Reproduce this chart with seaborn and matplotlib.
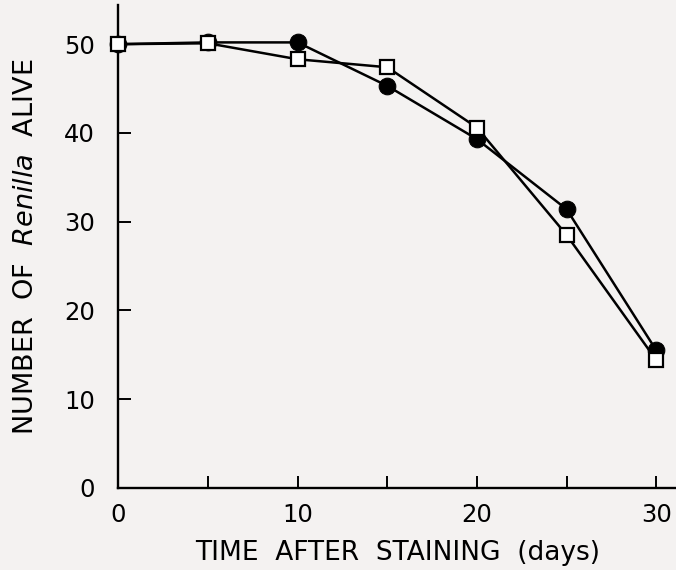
import matplotlib
matplotlib.use("Agg")
import matplotlib.pyplot as plt
import seaborn as sns
import pandas as pd

days = [0, 5, 10, 15, 20, 25, 30]
filled_circles = [50.0, 50.2, 50.2, 45.3, 39.3, 31.4, 15.5]
open_squares = [50.0, 50.1, 48.3, 47.4, 40.6, 28.5, 14.4]
x_tick_labels = ["0", "", "10", "", "20", "", "30"]
y_ticks = [0, 10, 20, 30, 40, 50]

sns.set_style("ticks")
plt.rcParams["font.family"] = ["DejaVu Sans"]
plt.rcParams["text.color"] = "black"
plt.rcParams["axes.labelcolor"] = "black"

bg = "#f4f2f1"
fig = plt.figure(figsize=(6.76, 5.70), dpi=100, facecolor=bg)
ax = fig.add_axes([0.175, 0.144, 0.825, 0.847], facecolor=bg)

df = pd.DataFrame({"day": days, "circ": filled_circles, "sq": open_squares})

sns.lineplot(data=df, x="day", y="circ", ax=ax, color="black", lw=1.8,
             marker="o", markersize=12, markerfacecolor="black",
             markeredgecolor="black", zorder=3, clip_on=False)
sns.lineplot(data=df, x="day", y="sq", ax=ax, color="black", lw=1.8,
             marker="s", markersize=10.5, markerfacecolor="white",
             markeredgecolor="black", markeredgewidth=1.6, zorder=4,
             clip_on=False)

ax.set_xlim(0, 31.1)
ax.set_ylim(0, 54.4)
ax.set_xticks(days)
ax.set_xticklabels(x_tick_labels)
ax.set_yticks(y_ticks)
ax.set_yticklabels([str(v) for v in y_ticks])
ax.tick_params(direction="in", length=9, width=1.4, labelsize=17.5,
               colors="black", pad=11)
ax.tick_params(axis="y", pad=17)

for s in ["top", "right"]:
    ax.spines[s].set_visible(False)
for s in ["left", "bottom"]:
    ax.spines[s].set_linewidth(1.7)
    ax.spines[s].set_color("black")

ax.set_xlabel("TIME  AFTER  STAINING  (days)", fontsize=19, labelpad=9)
ax.set_ylabel(r"NUMBER  OF  $\it{Renilla}$  ALIVE", fontsize=19.5, labelpad=18)

fig.savefig("out.png", dpi=100, facecolor=bg)
